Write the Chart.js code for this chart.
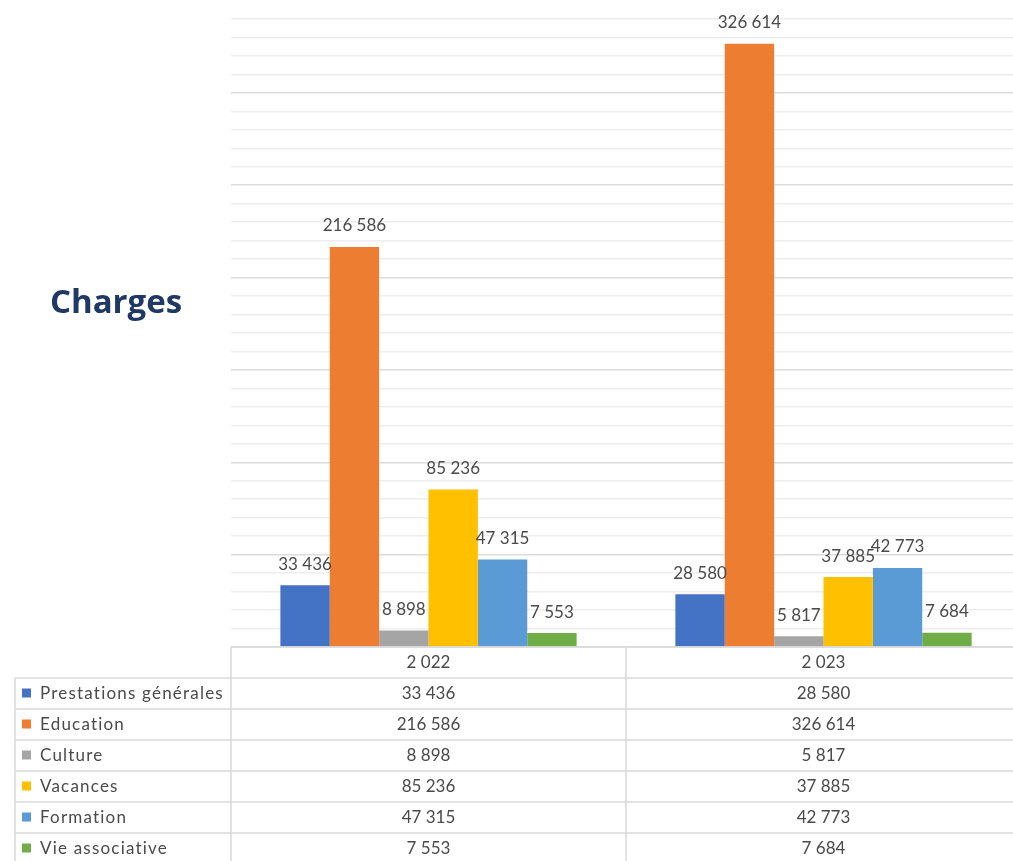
<!DOCTYPE html>
<html>
<head>
<meta charset="utf-8">
<script src="https://cdn.jsdelivr.net/npm/chart.js@4/dist/chart.umd.min.js"></script>
<style>
  html, body { margin: 0; padding: 0; background: #fff; overflow: hidden; }
  #wrap { position: relative; width: 1021px; height: 861px; }
</style>
</head>
<body>
<div id="wrap"><canvas id="chart" width="1021" height="861"></canvas></div>
<script>
const years = [2022, 2023];
const seriesNames = ['Prestations générales', 'Education', 'Culture', 'Vacances', 'Formation', 'Vie associative'];
const prestations = [33436, 28580];
const education   = [216586, 326614];
const culture     = [8898, 5817];
const vacances    = [85236, 37885];
const formation   = [47315, 42773];
const vieAsso     = [7553, 7684];
const colors = ['#4472C4', '#ED7D31', '#A5A5A5', '#FFC000', '#5B9BD5', '#70AD47'];

const TEXT = '#4a4a4a';
const LINE = '#d9d9d9';

// 33436 -> "33 436"
function fmt(n){
    return String(n).replace(/\B(?=(\d{3})+(?!\d))/g, ' ');
}

const values = [prestations, education, culture, vacances, formation, vieAsso];

// value labels above the bars
const barLabels = {
    id: 'barLabels',
    afterDatasetsDraw(chart){
        const ctx = chart.ctx;
        ctx.save();
        ctx.font = '17px Lato';
        ctx.fillStyle = TEXT;
        ctx.textAlign = 'center';
        ctx.textBaseline = 'middle';
        chart.data.datasets.forEach((ds, i) => {
            chart.getDatasetMeta(i).data.forEach((bar, j) => {
                ctx.fillText(fmt(ds.data[j]), bar.x, bar.y - 21);
            });
        });
        ctx.restore();
    }
};

// data table under the plot + title on the left
const dataTable = {
    id: 'dataTable',
    afterDraw(chart){
        const ctx = chart.ctx;
        const area = chart.chartArea;
        const xs = chart.scales.x;
        const rowH = 31;
        const top = area.bottom;
        const leftCol = 15;
        const bottom = chart.height;

        ctx.save();
        ctx.strokeStyle = LINE;
        ctx.lineWidth = 1.5;

        // horizontal lines
        for(let i = 0; i <= seriesNames.length + 1; i++){
            const y = top + i * rowH;
            ctx.beginPath();
            ctx.moveTo(i === 0 ? area.left : leftCol, y);
            ctx.lineTo(area.right, y);
            ctx.stroke();
        }

        // vertical lines
        const mid = (xs.getPixelForValue(0) + xs.getPixelForValue(1)) / 2;
        [[leftCol, top + rowH], [area.left, top], [mid, top], [area.right - 1, top]].forEach(([x, y0]) => {
            ctx.beginPath();
            ctx.moveTo(x, y0);
            ctx.lineTo(x, bottom);
            ctx.stroke();
        });

        ctx.font = '17px Lato';
        ctx.fillStyle = TEXT;
        ctx.textBaseline = 'middle';

        // header row
        ctx.textAlign = 'center';
        years.forEach((yr, j) => {
            ctx.fillText(fmt(yr), xs.getPixelForValue(j), top + rowH / 2);
        });

        // series rows
        seriesNames.forEach((name, i) => {
            const yc = top + rowH * (i + 1) + rowH / 2;
            ctx.fillStyle = colors[i];
            ctx.fillRect(leftCol + 7, yc - 5, 9, 9);
            ctx.fillStyle = TEXT;
            ctx.textAlign = 'left';
            ctx.letterSpacing = '1.2px';
            ctx.fillText(name, leftCol + 25, yc);
            ctx.letterSpacing = '0px';
            ctx.textAlign = 'center';
            values[i].forEach((v, j) => {
                ctx.fillText(fmt(v), xs.getPixelForValue(j), yc);
            });
        });

        // title
        ctx.font = 'bold 33px "Open Sans"';
        ctx.fillStyle = '#1F3864';
        ctx.textAlign = 'center';
        ctx.fillText('Charges', 116, 304);

        ctx.restore();
    }
};

const ctx = document.getElementById('chart').getContext('2d');
const chart = new Chart(ctx, {
    type: 'bar',
    data: {
        labels: years.map(fmt),
        datasets: seriesNames.map((name, i) => ({
            label: name,
            data: values[i],
            backgroundColor: colors[i],
            borderWidth: 0,
            categoryPercentage: 0.75,
            barPercentage: 1
        }))
    },
    options: {
        responsive: false,
        animation: false,
        layout: { padding: { left: 231, right: 0, top: 19, bottom: 214 } },
        scales: {
            x: { display: false },
            y: {
                min: 0,
                max: 340000,
                ticks: { display: false, stepSize: 10000 },
                border: { display: false },
                grid: {
                    drawTicks: false,
                    lineWidth: 1.5,
                    color: c => (c.tick && c.tick.value % 50000 === 0) ? '#dcdcdc' : '#eeeeee'
                }
            }
        },
        plugins: {
            legend: { display: false },
            tooltip: { enabled: false }
        }
    },
    plugins: [barLabels, dataTable]
});
</script>
</body>
</html>
